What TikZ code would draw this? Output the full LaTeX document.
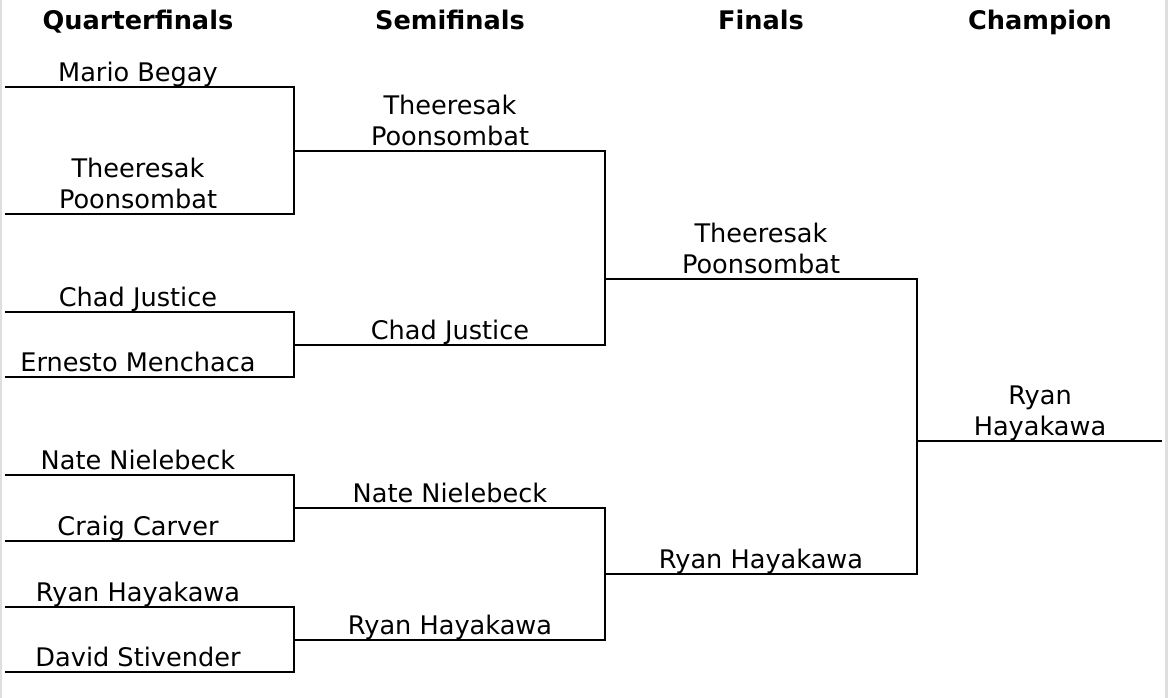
\documentclass[tikz,border=0pt]{standalone}
\usepackage{fontspec}
\setmainfont{DejaVu Sans}
\usetikzlibrary{positioning}
\definecolor{marco}{RGB}{222,222,222}

\begin{document}
\begin{tikzpicture}[x=0.75pt, y=-0.75pt,
    font=\fontsize{19.2}{23.2}\selectfont,
    titulo/.style={font=\fontsize{19.2}{23.2}\selectfont\bfseries, anchor=base},
    nombre/.style={anchor=south, inner sep=0pt, text depth=0pt, align=center},
    llave/.style={draw=black, line width=1.7pt}]
  \useasboundingbox (0,0) rectangle (1168,698);
  \draw[marco, line width=1.5pt] (1,0) -- (1,698);
  \draw[marco, line width=2pt] (1166.5,0) -- (1166.5,698);
  % encabezados
  \node[titulo] (hq) at (138,30) {Quarterfinals};
  \node[titulo] (hs) at (450,30) {Semifinals};
  \node[titulo] (hf) at (761,30) {Finals};
  \node[titulo] (hc) at (1040,30) {Champion};
  % cuartos
  \foreach \i/\y/\txt in {1/87/Mario Begay, 2/214/{Theeresak\\Poonsombat},
      3/312/Chad Justice, 4/377/Ernesto Menchaca, 5/475/Nate Nielebeck,
      6/541/Craig Carver, 7/607/Ryan Hayakawa, 8/672/David Stivender} {
    \coordinate (q\i a) at (5,\y);
    \coordinate (q\i b) at (294,\y);
    \node[nombre] (nq\i) at (138,\y-5) {\txt};
  }
  % semifinales
  \foreach \i/\y/\txt in {1/151/{Theeresak\\Poonsombat}, 2/345/Chad Justice,
      3/508/Nate Nielebeck, 4/640/Ryan Hayakawa} {
    \coordinate (s\i a) at (294,\y);
    \coordinate (s\i b) at (605,\y);
    \node[nombre] (ns\i) at (450,\y-5) {\txt};
  }
  % final
  \foreach \i/\y/\txt in {1/279/{Theeresak\\Poonsombat}, 2/574/Ryan Hayakawa} {
    \coordinate (f\i a) at (605,\y);
    \coordinate (f\i b) at (917,\y);
    \node[nombre] (nf\i) at (761,\y-5) {\txt};
  }
  % campeon
  \coordinate (ca) at (917,441);
  \coordinate (cb) at (1162,441);
  \node[nombre] (nc) at (1040,441-5) {Ryan\\Hayakawa};
  % llaves
  \draw[llave] (q1a) -- (q1b) -- (q2b) -- (q2a);
  \draw[llave] (q3a) -- (q3b) -- (q4b) -- (q4a);
  \draw[llave] (q5a) -- (q5b) -- (q6b) -- (q6a);
  \draw[llave] (q7a) -- (q7b) -- (q8b) -- (q8a);
  \draw[llave] (s1a) -- (s1b) -- (s2b) -- (s2a);
  \draw[llave] (s3a) -- (s3b) -- (s4b) -- (s4a);
  \draw[llave] (f1a) -- (f1b) -- (f2b) -- (f2a);
  \draw[llave] (ca) -- (cb);
\end{tikzpicture}
\end{document}
